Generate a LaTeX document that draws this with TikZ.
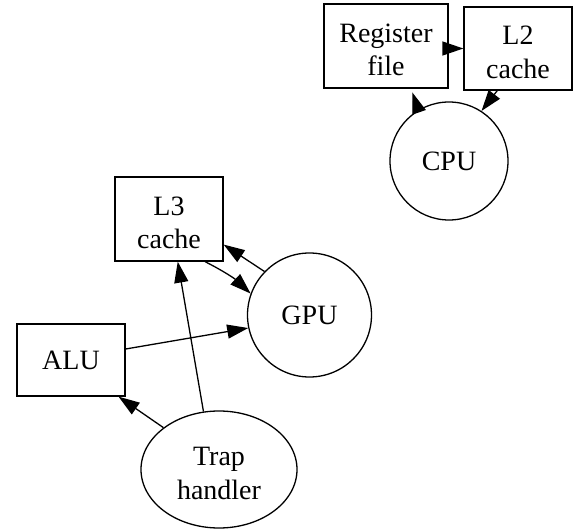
\documentclass[tikz,border=0pt]{standalone}
\usepackage{fontspec}
\setmainfont{Liberation Serif}
\usetikzlibrary{arrows.meta,shapes.geometric,calc}
\tikzset{
  every node/.style={font=\fontsize{28}{33.6}\selectfont, align=center, inner sep=0pt, line width=1.3pt},
  boxnode/.style={draw, rectangle},
  circnode/.style={draw, circle},
  ellnode/.style={draw, ellipse},
  conn/.style={line width=1.3pt, -{Triangle[length=21pt,width=14pt]}},
}
\newcommand{\tallfirst}{\rule{0pt}{26pt}}
\begin{document}
\begin{tikzpicture}[x=1pt,y=-1pt]
\useasboundingbox (0,0) rectangle (573,529);
\node[boxnode, minimum width=124pt, minimum height=84pt] (reg) at (386,46) {\tallfirst Register\\file};
\node[boxnode, minimum width=108pt, minimum height=83pt] (l2) at (518,48.5) {\tallfirst L2\\cache};
\node[circnode, minimum size=118pt] (cpu) at (449,161) {CPU};
\node[boxnode, minimum width=108pt, minimum height=84pt] (l3) at (169,219) {\tallfirst L3\\cache};
\node[circnode, minimum size=124pt] (gpu) at (309.5,315) {GPU};
\node[boxnode, minimum width=108pt, minimum height=72pt] (alu) at (71,360) {ALU};
\node[ellnode, minimum width=156pt, minimum height=117pt] (trap) at (219,469.5) {\tallfirst Trap\\handler};

\draw[conn] (reg.east |- l2.west) -- (l2.west);
\draw[conn, shorten >=4pt] (cpu.121) -- ($(reg.south west)!0.70!(reg.south east)$);
\draw[conn] ($(l2.south west)!0.31!(l2.south east)$) -- (cpu.57);
\draw[conn] (gpu.136) -- ($(l3.south east)!0.2!(l3.north east)$);
\draw[conn] ($(l3.south west)!0.83!(l3.south east)$) to[bend left=8] (gpu.160);
\draw[conn] ($(alu.south east)!0.65!(alu.north east)$) -- (gpu.192);
\draw[conn] (trap.143) -- ($(alu.south west)!0.935!(alu.south east)$);
\draw[conn] (trap.105) -- ($(l3.south west)!0.58!(l3.south east)$);
\end{tikzpicture}
\end{document}
